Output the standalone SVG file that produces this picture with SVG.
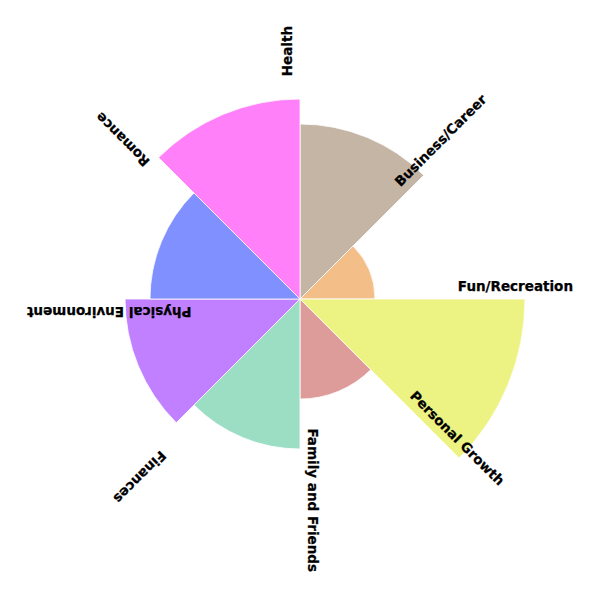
<svg xmlns="http://www.w3.org/2000/svg" width="600" height="600" viewBox="0 0 600 600">
<style>
.s{stroke:#ffffff;stroke-width:0.8;stroke-linejoin:miter}
.l{font-family:"DejaVu Sans","Liberation Sans",sans-serif;font-weight:bold;font-size:13.5px;fill:#000000;text-anchor:end;stroke:#000000;stroke-width:0.25}
</style>
<rect width="600" height="600" fill="#ffffff"/>
<g id="health">
<path class="s" fill="#c4b5a5" d="M300,299 L300,124 A175,175 0 0 1 423.74,175.26 Z"/>
<text class="l" transform="translate(300,299) rotate(-90)" x="273" y="-8">Health</text>
</g>
<g id="business-career">
<path class="s" fill="#f4be88" d="M300,299 L353.03,245.97 A75,75 0 0 1 375,299 Z"/>
<text class="l" transform="translate(300,299) rotate(-45)" x="273" y="-8">Business/Career</text>
</g>
<g id="fun-recreation">
<path class="s" fill="#edf383" d="M300,299 L525,299 A225,225 0 0 1 459.1,458.1 Z"/>
<text class="l" transform="translate(300,299)" x="273" y="-8">Fun/Recreation</text>
</g>
<g id="personal-growth">
<path class="s" fill="#dd9b99" d="M300,299 L370.71,369.71 A100,100 0 0 1 300,399 Z"/>
<text class="l" transform="translate(300,299) rotate(45)" x="273" y="-8">Personal Growth</text>
</g>
<g id="family-friends">
<path class="s" fill="#9bdec4" d="M300,299 L300,449 A150,150 0 0 1 193.93,405.07 Z"/>
<text class="l" transform="translate(300,299) rotate(90)" x="273" y="-8">Family and Friends</text>
</g>
<g id="finances">
<path class="s" fill="#c080ff" d="M300,299 L176.26,422.74 A175,175 0 0 1 125,299 Z"/>
<text class="l" transform="translate(300,299) rotate(135)" x="273" y="-8">Finances</text>
</g>
<g id="physical-environment">
<path class="s" fill="#8090ff" d="M300,299 L150,299 A150,150 0 0 1 193.93,192.93 Z"/>
<text class="l" transform="translate(300,299) rotate(180)" x="273" y="-8">Physical Environment</text>
</g>
<g id="romance">
<path class="s" fill="#ff80f8" d="M300,299 L158.58,157.58 A200,200 0 0 1 300,99 Z"/>
<text class="l" transform="translate(300,299) rotate(225)" x="273" y="-8">Romance</text>
</g>
<g id="connectors"></g>
</svg>
